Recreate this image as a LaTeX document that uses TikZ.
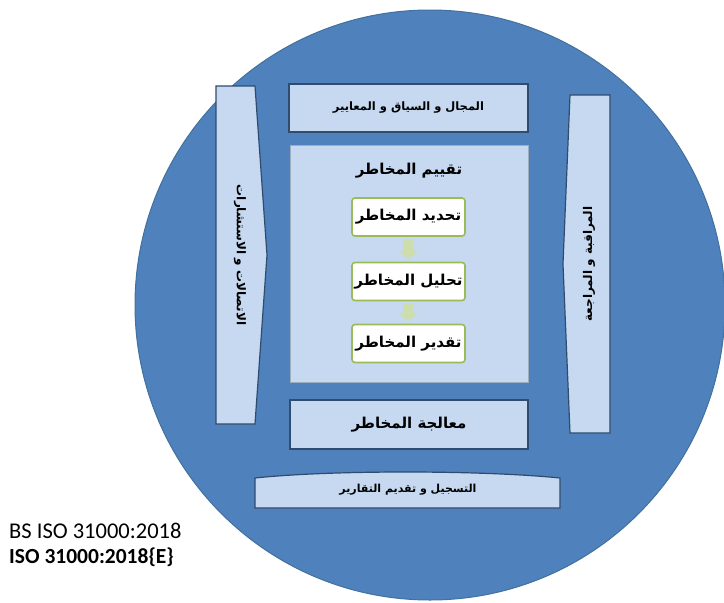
\documentclass[tikz,border=0pt]{standalone}
\usepackage{fontspec}
\setmainfont{Carlito}
\newfontfamily\arabicfont[Script=Arabic]{DejaVu Sans}
\TeXXeTstate=1
\usetikzlibrary{calc}
\definecolor{circfill}{HTML}{4F81BD}
\definecolor{circedge}{HTML}{41719C}
\definecolor{boxfill}{HTML}{C6D9F1}
\definecolor{boxedge}{HTML}{2F4B6E}
\definecolor{greenedge}{HTML}{9BBB59}
\definecolor{arrowgreen}{HTML}{CDDDAC}
\newcommand{\ar}[1]{\arabicfont\bfseries\beginR #1\endR}
\newcommand{\blockarrow}[2]{%
  \fill[arrowgreen] ($(#1.south)+(-5,2)$) -- ($(#1.south)+(5,2)$) --
    ($(#2.north)+(5,-10)$) -- ($(#2.north)+(9,-10)$) -- ($(#2.north)+(0,-2)$) --
    ($(#2.north)+(-9,-10)$) -- ($(#2.north)+(-5,-10)$) -- cycle;}
\tikzset{
  panel/.style={draw=boxedge, line width=1.2pt, fill=boxfill, inner sep=0pt},
  inner/.style={draw=greenedge, line width=1.6pt, fill=white, rounded corners=3pt,
    minimum width=113pt, minimum height=38pt, inner sep=0pt},
  lbl/.style={inner sep=0pt, text=black}
}
\begin{document}
\begin{tikzpicture}[x=1pt,y=-1pt]
\useasboundingbox (0,0) rectangle (724,603);
% big circle
\node (circ) [circle, draw=circedge, line width=1pt, fill=circfill, minimum size=590pt, inner sep=0pt] at (430,305) {};
% top box
\node (scope) [panel, minimum width=239pt, minimum height=48pt] at (408.5,108) {};
\node [lbl] at (scope.center) {\fontsize{11.5}{13}\selectfont\ar{المجال و السياق و المعايير}};
% central assessment box
\node (assess) [fill=boxfill, draw=boxfill!80!black, line width=0.4pt, minimum width=238pt, minimum height=237pt, inner sep=0pt] at (409,263.5) {};
\node (assesst) [lbl] at (409,171) {\fontsize{15}{17}\selectfont\ar{تقييم المخاطر}};
\node (ident) [inner] at (408.5,217) {\fontsize{15}{17}\selectfont\ar{تحديد المخاطر}};
\node (analy) [inner] at (408.5,281.5) {\fontsize{15}{17}\selectfont\ar{تحليل المخاطر}};
\node (evalu) [inner] at (408.5,343.5) {\fontsize{15}{17}\selectfont\ar{تقدير المخاطر}};
\blockarrow{ident}{analy}
\blockarrow{analy}{evalu}
% treatment box
\node (treat) [panel, minimum width=238pt, minimum height=49pt] at (409,424.5) {};
\node [lbl] at (treat.center) {\fontsize{15}{17}\selectfont\ar{معالجة المخاطر}};
% left box (communication)
\draw[draw=boxedge, line width=1.2pt, fill=boxfill]
  (216,86) -- (255,86) -- (267,255) -- (255,424) -- (216,424) -- cycle;
\node (comm) [lbl, rotate=-90] at (240,255) {\fontsize{12}{14}\selectfont\ar{الاتصالات و الاستشارات}};
% right box (monitoring)
\draw[draw=boxedge, line width=1.2pt, fill=boxfill]
  (570,95) -- (610,95) -- (610,433) -- (570,433) -- (563,264) -- cycle;
\node (monit) [lbl, rotate=90] at (589,264) {\fontsize{12}{14}\selectfont\ar{المراقبة و المراجعة}};
% bottom box (recording)
\draw[draw=boxedge, line width=1.2pt, fill=boxfill]
  (255,478) .. controls (330,470) and (480,470) .. (560,478) -- (560,508) -- (255,508) -- cycle;
\node (record) [lbl] at (408,490) {\fontsize{11}{13}\selectfont\ar{التسجيل و تقديم التقارير}};
% standard labels
\node (bs) [lbl, anchor=west] at (9,531) {\fontsize{22.5}{26}\selectfont BS ISO 31000:2018};
\node (iso) [lbl, anchor=west] at (9,557) {\fontsize{21.5}{26}\selectfont\bfseries ISO 31000:2018\{E\}};
\end{tikzpicture}
\end{document}
